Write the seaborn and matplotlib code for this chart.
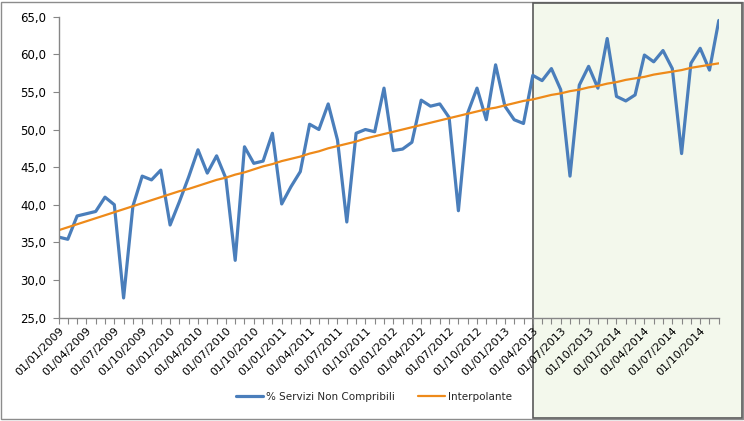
import pandas as pd
import matplotlib.pyplot as plt
import matplotlib.transforms as mtransforms
from matplotlib.patches import Rectangle
from matplotlib.ticker import MultipleLocator, FuncFormatter
import seaborn as sns

# ================================
# Data (monthly, 01/2009 - 12/2014)
# ================================
mesi = pd.date_range("2009-01-01", periods=72, freq="MS")
etichette = [d.strftime("%d/%m/%Y") for d in mesi]

servizi_non_compribili = [
    35.7, 35.4, 38.5, 38.8, 39.1, 41.0, 40.0, 27.6, 39.8, 43.8, 43.3, 44.6,
    37.3, 40.4, 43.7, 47.3, 44.2, 46.5, 43.5, 32.6, 47.7, 45.5, 45.8, 49.5,
    40.1, 42.4, 44.4, 50.7, 50.0, 53.4, 48.6, 37.7, 49.5, 50.0, 49.7, 55.5,
    47.2, 47.4, 48.3, 53.9, 53.1, 53.4, 51.6, 39.2, 52.2, 55.5, 51.3, 58.6,
    53.1, 51.3, 50.8, 57.2, 56.5, 58.1, 55.3, 43.8, 55.9, 58.4, 55.5, 62.1,
    54.4, 53.8, 54.6, 59.9, 59.0, 60.5, 58.1, 46.8, 58.8, 60.8, 57.9, 64.5,
]

interpolante = [
    36.6, 37.0, 37.4, 37.8, 38.2, 38.6, 39.0, 39.4, 39.8, 40.2, 40.6, 41.0,
    41.4, 41.8, 42.1, 42.5, 42.9, 43.3, 43.6, 44.0, 44.3, 44.7, 45.1, 45.4,
    45.8, 46.1, 46.4, 46.8, 47.1, 47.5, 47.8, 48.1, 48.4, 48.8, 49.1, 49.4,
    49.7, 50.0, 50.3, 50.6, 50.9, 51.2, 51.5, 51.8, 52.1, 52.4, 52.7, 52.9,
    53.2, 53.5, 53.8, 54.0, 54.3, 54.6, 54.8, 55.1, 55.3, 55.6, 55.8, 56.1,
    56.3, 56.6, 56.8, 57.0, 57.3, 57.5, 57.7, 57.9, 58.2, 58.4, 58.6, 58.8,
]

inizio_evidenza = "01/04/2013"   # start of highlighted period

df = pd.DataFrame({
    "pos": range(len(mesi)),
    "serie": servizi_non_compribili,
    "trend": interpolante,
})

# ================================
# Plot
# ================================
sns.set_style("white")
plt.rcParams["font.family"] = ["DejaVu Sans"]

fig = plt.figure(figsize=(7.44, 4.21), dpi=100)
ax = fig.add_axes([58.5 / 744, 1 - 317.5 / 421, 660.3 / 744, 300.8 / 421])
ax.patch.set_alpha(0)

# highlighted area (drawn behind the axes)
x0 = etichette.index(inizio_evidenza)
blend = mtransforms.blended_transform_factory(ax.transData, fig.transFigure)
fig.patches.append(Rectangle((x0, 0.006), 22.5, 0.988, transform=blend,
                             facecolor="#f3f8ec", edgecolor="#5a5a5a",
                             linewidth=1.2, zorder=-1))
# chart area frame
fig.patches.append(Rectangle((0.002, 0.004), 0.996, 0.992, transform=fig.transFigure,
                             facecolor="none", edgecolor="#8c8c8c",
                             linewidth=1.0, zorder=-2))

sns.lineplot(data=df, x="pos", y="serie", ax=ax, color="#4a7ebb", linewidth=2.3,
             label="% Servizi Non Compribili")
sns.lineplot(data=df, x="pos", y="trend", ax=ax, color="#ee8a1a", linewidth=1.6,
             label="Interpolante")

ax.set_xlim(0, len(mesi) - 1)
ax.set_ylim(25, 65)
ax.yaxis.set_major_locator(MultipleLocator(5))
ax.yaxis.set_major_formatter(FuncFormatter(lambda v, p: f"{v:.1f}".replace(".", ",")))
ax.set_xticks(range(0, len(mesi), 3))
ax.set_xticklabels(etichette[::3], rotation=45, ha="right", rotation_mode="anchor")
ax.xaxis.set_minor_locator(MultipleLocator(1))
ax.set_xlabel("")
ax.set_ylabel("")

for s in ["top", "right"]:
    ax.spines[s].set_visible(False)
for s in ["left", "bottom"]:
    ax.spines[s].set_color("#868686")
    ax.spines[s].set_linewidth(1.0)

ax.tick_params(axis="both", which="both", direction="out", color="#868686",
               length=4, width=0.8, labelcolor="black")
ax.tick_params(axis="x", which="both", bottom=True, pad=2, labelsize=8)
ax.tick_params(axis="y", left=True, pad=5, labelsize=8.5)

ax.legend(loc="center", bbox_to_anchor=(0.503, 0.057), bbox_transform=fig.transFigure,
          ncol=2, frameon=False, fontsize=7.5, handlelength=2.6, columnspacing=2.2,
          handletextpad=0.3)

fig.savefig("out.png", dpi=100)
